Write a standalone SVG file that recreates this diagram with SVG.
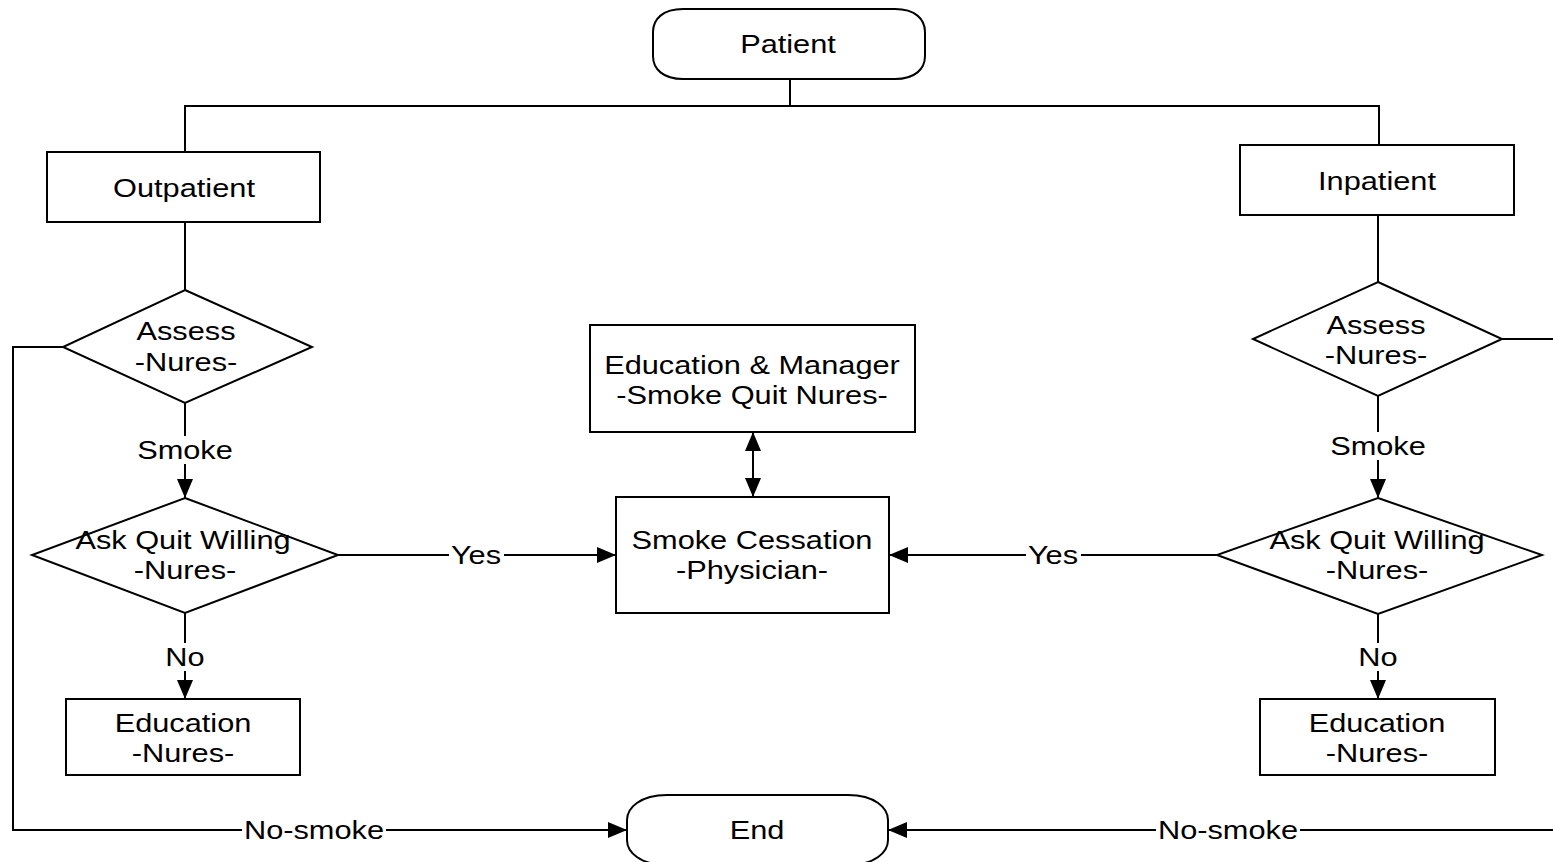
<svg xmlns="http://www.w3.org/2000/svg" width="1553" height="862" viewBox="0 0 1553 862">
<style>
.s{fill:#fff;stroke:#000;stroke-width:2}
.c{fill:none;stroke:#000;stroke-width:2}
.t{font-family:"Liberation Sans",Arial,sans-serif;font-size:25px;fill:#000;text-anchor:middle}
.bg{fill:#fff}
</style>
<defs>
<marker id="ah" markerUnits="userSpaceOnUse" markerWidth="20" markerHeight="18" refX="19" refY="8" orient="auto-start-reverse" viewBox="0 0 20 16">
<path d="M0,0 L19,8 L0,16 Z" fill="#000"/>
</marker>
</defs>
<rect width="1553" height="862" fill="#fff"/>
<g id="connectors">
<path class="c" d="M790,79 V106"/>
<path class="c" d="M185,152 V106 H1379 V145"/>
<path class="c" d="M185,222 V290"/>
<path class="c" d="M63,347 H13 V830 H627" marker-end="url(#ah)"/>
<path class="c" d="M185,403 V498" marker-end="url(#ah)"/>
<path class="c" d="M338,555 H616" marker-end="url(#ah)"/>
<path class="c" d="M185,613 V699" marker-end="url(#ah)"/>
<path class="c" d="M753,432 V497" marker-start="url(#ah)" marker-end="url(#ah)"/>
<path class="c" d="M1378,215 V282"/>
<path class="c" d="M1502,339 H1553"/>
<path class="c" d="M1378,396 V498" marker-end="url(#ah)"/>
<path class="c" d="M1217,555 H889" marker-end="url(#ah)"/>
<path class="c" d="M1378,614 V699" marker-end="url(#ah)"/>
<path class="c" d="M1553,830 H888" marker-end="url(#ah)"/>
<g id="labels">
<rect class="bg" x="136" y="436" width="98" height="28"/>
<text class="t" transform="translate(185 459) scale(1.23 1)">Smoke</text>
<rect class="bg" x="449" y="541" width="55" height="28"/>
<text class="t" transform="translate(476 564) scale(1.23 1)">Yes</text>
<rect class="bg" x="164" y="643" width="42" height="28"/>
<text class="t" transform="translate(185 666) scale(1.23 1)">No</text>
<rect class="bg" x="242" y="816" width="144" height="28"/>
<text class="t" transform="translate(314 839) scale(1.23 1)">No-smoke</text>
<rect class="bg" x="1329" y="432" width="98" height="28"/>
<text class="t" transform="translate(1378 455) scale(1.23 1)">Smoke</text>
<rect class="bg" x="1026" y="541" width="55" height="28"/>
<text class="t" transform="translate(1053 564) scale(1.23 1)">Yes</text>
<rect class="bg" x="1357" y="643" width="42" height="28"/>
<text class="t" transform="translate(1378 666) scale(1.23 1)">No</text>
<rect class="bg" x="1156" y="816" width="144" height="28"/>
<text class="t" transform="translate(1228 839) scale(1.23 1)">No-smoke</text>
</g>
</g>
<g id="patient">
<path class="s" d="M683,9 H895 C915,9 925,19 925,32 V56 C925,69 915,79 895,79 H683 C663,79 653,69 653,56 V32 C653,19 663,9 683,9 Z"/>
<text class="t" transform="translate(788 53) scale(1.23 1)">Patient</text>
</g>
<g id="outpatient">
<rect class="s" x="47" y="152" width="273" height="70"/>
<text class="t" transform="translate(184 197) scale(1.23 1)">Outpatient</text>
</g>
<g id="inpatient">
<rect class="s" x="1240" y="145" width="274" height="70"/>
<text class="t" transform="translate(1377 190) scale(1.23 1)">Inpatient</text>
</g>
<g id="assess-left">
<polygon class="s" points="185,290 312,347 185,403 63,347"/>
<text class="t" transform="translate(186 340) scale(1.23 1)">Assess</text>
<text class="t" transform="translate(186 371) scale(1.23 1)">-Nures-</text>
</g>
<g id="ask-left">
<polygon class="s" points="185,498 338,555 185,613 32,555"/>
<text class="t" transform="translate(183 549) scale(1.23 1)">Ask Quit Willing</text>
<text class="t" transform="translate(185 579) scale(1.23 1)">-Nures-</text>
</g>
<g id="education-left">
<rect class="s" x="66" y="699" width="234" height="76"/>
<text class="t" transform="translate(183 732) scale(1.23 1)">Education</text>
<text class="t" transform="translate(183 762) scale(1.23 1)">-Nures-</text>
</g>
<g id="education-manager">
<rect class="s" x="590" y="325" width="325" height="107"/>
<text class="t" transform="translate(752 374) scale(1.23 1)">Education &amp; Manager</text>
<text class="t" transform="translate(752 404) scale(1.23 1)">-Smoke Quit Nures-</text>
</g>
<g id="smoke-cessation">
<rect class="s" x="616" y="497" width="273" height="116"/>
<text class="t" transform="translate(752 549) scale(1.23 1)">Smoke Cessation</text>
<text class="t" transform="translate(752 579) scale(1.23 1)">-Physician-</text>
</g>
<g id="assess-right">
<polygon class="s" points="1378,282 1502,339 1378,396 1253,339"/>
<text class="t" transform="translate(1376 334) scale(1.23 1)">Assess</text>
<text class="t" transform="translate(1376 364) scale(1.23 1)">-Nures-</text>
</g>
<g id="ask-right">
<polygon class="s" points="1378,498 1542,555 1378,614 1217,555"/>
<text class="t" transform="translate(1377 549) scale(1.23 1)">Ask Quit Willing</text>
<text class="t" transform="translate(1377 579) scale(1.23 1)">-Nures-</text>
</g>
<g id="education-right">
<rect class="s" x="1260" y="699" width="235" height="76"/>
<text class="t" transform="translate(1377 732) scale(1.23 1)">Education</text>
<text class="t" transform="translate(1377 762) scale(1.23 1)">-Nures-</text>
</g>
<g id="end">
<path class="s" d="M667,795 H848 C875,795 888,808 888,820 V840 C888,852 875,865 848,865 H667 C640,865 627,852 627,840 V820 C627,808 640,795 667,795 Z"/>
<text class="t" transform="translate(757 839) scale(1.23 1)">End</text>
</g>
</svg>
